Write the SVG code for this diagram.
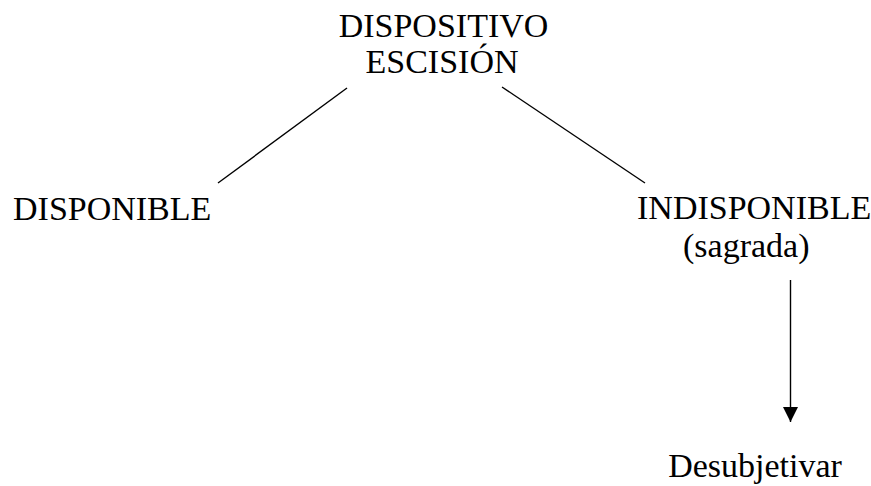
<svg xmlns="http://www.w3.org/2000/svg" width="871" height="486" viewBox="0 0 871 486">
<style>
text{font-family:"Liberation Serif","Times New Roman",serif;font-size:34px;fill:#000}
.c line{stroke:#000;stroke-width:1.4}
</style>
<defs>
<marker id="ah" markerUnits="userSpaceOnUse" markerWidth="16" markerHeight="16" refX="15" refY="7.5" orient="auto">
<path d="M0,0 L15,7.5 L0,15 Z" fill="#000"/>
</marker>
</defs>
<rect width="871" height="486" fill="#fff"/>
<g id="dispositivo">
<text x="443.5" y="37" text-anchor="middle">DISPOSITIVO</text>
<text x="442" y="73" text-anchor="middle">ESCISIÓN</text>
</g>
<g id="disponible">
<text x="13" y="220">DISPONIBLE</text>
</g>
<g id="indisponible">
<text x="637" y="219">INDISPONIBLE</text>
<text x="683" y="257">(sagrada)</text>
</g>
<g id="desubjetivar">
<text x="755" y="477" text-anchor="middle">Desubjetivar</text>
</g>
<g class="c" id="connectors">
<line x1="347" y1="88" x2="218" y2="183"/>
<line x1="502" y1="87" x2="645" y2="183"/>
<line x1="790.5" y1="280" x2="790.5" y2="422" marker-end="url(#ah)"/>
</g>
</svg>
